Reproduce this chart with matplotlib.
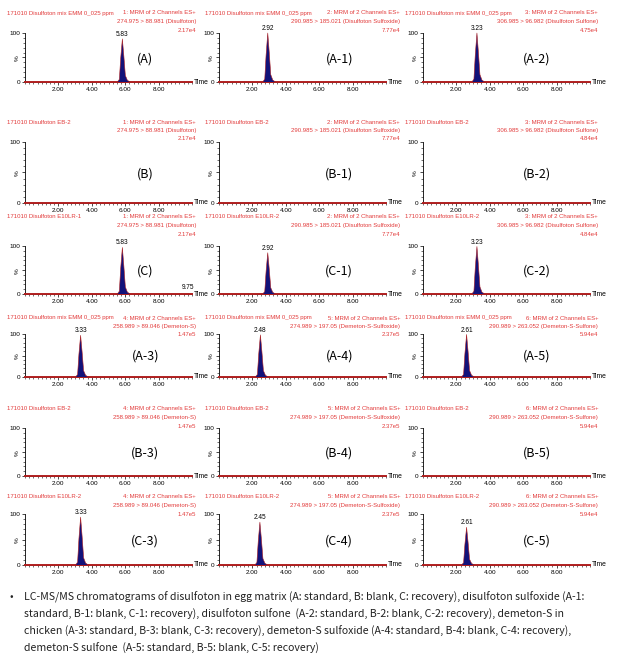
import matplotlib
matplotlib.use("Agg")
import matplotlib.pyplot as plt
from matplotlib.ticker import FixedLocator, MultipleLocator, NullFormatter

W, H, DPI = 621, 654, 100

# ---------------------------------------------------------------- data
panel_labels = [
    ["(A)", "(A-1)", "(A-2)"],
    ["(B)", "(B-1)", "(B-2)"],
    ["(C)", "(C-1)", "(C-2)"],
    ["(A-3)", "(A-4)", "(A-5)"],
    ["(B-3)", "(B-4)", "(B-5)"],
    ["(C-3)", "(C-4)", "(C-5)"],
]
sample_names = [
    ["171010 Disulfoton mix EMM 0_025 ppm"] * 3,
    ["171010 Disulfoton EB-2"] * 3,
    ["171010 Disulfoton E10LR-1", "171010 Disulfoton E10LR-2", "171010 Disulfoton E10LR-2"],
    ["171010 Disulfoton mix EMM 0_025 ppm"] * 3,
    ["171010 Disulfoton EB-2"] * 3,
    ["171010 Disulfoton E10LR-2"] * 3,
]
channels = [
    ["1: MRM of 2 Channels ES+", "2: MRM of 2 Channels ES+", "3: MRM of 2 Channels ES+"],
    ["4: MRM of 2 Channels ES+", "5: MRM of 2 Channels ES+", "6: MRM of 2 Channels ES+"],
]
transitions = [
    ["274.975 > 88.981 (Disulfoton)", "290.985 > 185.021 (Disulfoton Sulfoxide)",
     "306.985 > 96.982 (Disulfoton Sulfone)"],
    ["258.989 > 89.046 (Demeton-S)", "274.989 > 197.05 (Demeton-S-Sulfoxide)",
     "290.989 > 263.052 (Demeton-S-Sulfone)"],
]
intensities = [
    ["2.17e4", "7.77e4", "4.75e4"],
    ["2.17e4", "7.77e4", "4.84e4"],
    ["2.17e4", "7.77e4", "4.84e4"],
    ["1.47e5", "2.37e5", "5.94e4"],
    ["1.47e5", "2.37e5", "5.94e4"],
    ["1.47e5", "2.37e5", "5.94e4"],
]
# retention time (min) and relative height (%) of the main peak, None = blank
peak_rt = [
    [5.83, 2.92, 3.23],
    [None, None, None],
    [5.83, 2.92, 3.23],
    [3.33, 2.48, 2.61],
    [None, None, None],
    [3.33, 2.45, 2.61],
]
peak_height = [
    [88, 100, 100],
    [0, 0, 0],
    [97, 86, 99],
    [97, 98, 99],
    [0, 0, 0],
    [94, 84, 74],
]
# small labelled bump at the end of run in (C)
extra_peak = {(2, 0): (9.75, 3)}

# peak profile: offset (min) and fraction of apex
profile_dt = [-0.30, -0.18, -0.10, 0.0, 0.09, 0.18, 0.30, 0.46]
profile_rel = [0.0, 0.06, 0.55, 1.0, 0.6, 0.15, 0.04, 0.0]

x_ticks = [2, 4, 6, 8]
x_tick_labels = ["2.00", "4.00", "6.00", "8.00"]

caption = [
    "LC-MS/MS chromatograms of disulfoton in egg matrix (A: standard, B: blank, C: recovery), disulfoton sulfoxide (A-1:",
    "standard, B-1: blank, C-1: recovery), disulfoton sulfone  (A-2: standard, B-2: blank, C-2: recovery), demeton-S in",
    "chicken (A-3: standard, B-3: blank, C-3: recovery), demeton-S sulfoxide (A-4: standard, B-4: blank, C-4: recovery),",
    "demeton-S sulfone  (A-5: standard, B-5: blank, C-5: recovery)",
]

# ---------------------------------------------------------------- layout (px)
col_left = [25, 219, 423]
col_width = 167
row_y100 = [33, 142, 246, 334, 428, 514]
row_y0 = [82, 203, 294, 377, 476, 565]
row_head = [13, 122, 217, 318, 409, 497]
head_left = [7, 205, 405]
head_right = [196, 400, 598]
label_x = [0.72, 0.72, 0.68]
caption_y = [597, 614, 631, 648]

RED = "#e23b3b"
TRACE = "#b02020"
FILL = "#12127a"
HEAD_FONT = ["Liberation Sans Narrow", "Liberation Sans", "DejaVu Sans"]
LABEL_FONT = ["Noto Sans CJK KR", "DejaVu Sans"]
HEAD_SIZE = 4.3
TICK_SIZE = 4.6


def fx(x):
    return x / W


def fy(y):
    return 1 - y / H


fig = plt.figure(figsize=(W / DPI, H / DPI), dpi=DPI)

for r in range(6):
    y100, y0 = row_y100[r], row_y0[r]
    span = (y0 - y100) * 1.06
    grp = 0 if r < 3 else 1
    for c in range(3):
        ax = fig.add_axes([fx(col_left[c]), fy(y0), col_width / W, span / H])
        ax.set_xlim(0, 10)
        ax.set_ylim(0, 106)
        for s in ("top", "right"):
            ax.spines[s].set_visible(False)
        for s in ("left", "bottom"):
            ax.spines[s].set_linewidth(0.6)
        ax.spines["left"].set_bounds(0, 100)

        # trace
        ax.plot([0, 10], [0, 0], color=TRACE, lw=1.4, zorder=3, clip_on=False)
        rt = peak_rt[r][c]
        if rt is not None:
            h = peak_height[r][c]
            xs = [rt + d for d in profile_dt]
            ys = [h * v for v in profile_rel]
            ax.fill(xs, ys, color=FILL, zorder=4, lw=0)
            ax.plot(xs, ys, color=TRACE, lw=0.4, zorder=5)
            ax.text(rt, h + 2, f"{rt:.2f}", fontsize=HEAD_SIZE + 0.4, ha="center",
                    va="bottom", family=HEAD_FONT)
        if (r, c) in extra_peak:
            ert, eh = extra_peak[(r, c)]
            ax.text(ert, eh + 3, f"{ert:.2f}", fontsize=HEAD_SIZE + 0.4, ha="center",
                    va="bottom", family=HEAD_FONT)

        # ticks
        ax.xaxis.set_major_locator(FixedLocator(x_ticks))
        ax.set_xticklabels(x_tick_labels)
        ax.xaxis.set_minor_locator(MultipleLocator(0.25))
        ax.yaxis.set_major_locator(FixedLocator([0, 50, 100]))
        ax.set_yticklabels(["0", "%", "100"])
        ax.yaxis.set_minor_locator(MultipleLocator(10))
        ax.yaxis.set_minor_formatter(NullFormatter())
        ax.tick_params(which="major", length=2.5, width=0.5, pad=1, labelsize=TICK_SIZE)
        ax.tick_params(which="minor", length=1.5, width=0.4)
        for t in ax.get_xticklabels() + ax.get_yticklabels():
            t.set_family(HEAD_FONT)
        ax.get_yticklabels()[1].set_rotation(90)
        ax.text(1.01, 0, "Time", transform=ax.transAxes, fontsize=TICK_SIZE + 0.3,
                ha="left", va="center", family=HEAD_FONT)

        ax.text(label_x[c], 0.45, panel_labels[r][c], transform=ax.transAxes,
                fontsize=9, ha="center", va="center", family=LABEL_FONT)

        # red header
        fig.text(fx(head_left[c]), fy(row_head[r]), sample_names[r][c], color=RED,
                 fontsize=HEAD_SIZE, ha="left", va="center", family=HEAD_FONT)
        lines = [channels[grp][c], transitions[grp][c], intensities[r][c]]
        for k, line in enumerate(lines):
            fig.text(fx(head_right[c]), fy(row_head[r] + 8.5 * k), line, color=RED,
                     fontsize=HEAD_SIZE, ha="right", va="center", family=HEAD_FONT)

fig.text(fx(10), fy(caption_y[0]), "•", fontsize=7.5, ha="left", va="center",
         family=LABEL_FONT, color="#222222")
for line, y in zip(caption, caption_y):
    fig.text(fx(24), fy(y), line, fontsize=7.6, ha="left", va="center",
             family=LABEL_FONT, color="#222222")

fig.savefig("out.png", dpi=DPI)
